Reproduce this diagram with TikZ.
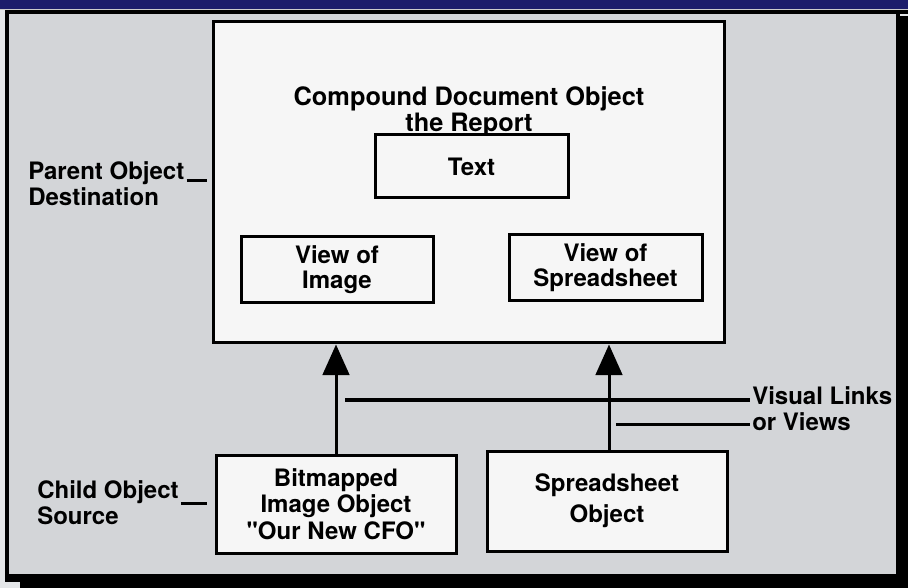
\documentclass[tikz,border=0pt]{standalone}
\usepackage{fontspec}
\setmainfont{TeX Gyre Heros}
\usetikzlibrary{arrows.meta}
\definecolor{panelgray}{HTML}{D3D5D8}
\definecolor{boxwhite}{HTML}{F6F6F6}
\definecolor{bandnavy}{HTML}{1C1D6B}
\definecolor{edgelight}{HTML}{E4E6E8}
\begin{document}
\begin{tikzpicture}[x=0.75pt,y=-0.75pt,
  txt/.style={font=\bfseries\fontsize{18}{19.5}\selectfont, inner sep=0pt},
  lbl/.style={txt, align=left, anchor=west},
  obj/.style={draw=black, line width=2.25pt, fill=boxwhite, inner sep=0pt,
              align=center, font=\bfseries\fontsize{18}{18.5}\selectfont},
  link/.style={line width=2.25pt},
  arr/.style={line width=2.25pt, -{Triangle[width=20pt,length=23pt]}}]
\useasboundingbox (0,0) rectangle (908,588);

% frame, title band and grey panel
\fill[black] (0,0) rectangle (908,588);
\fill[bandnavy] (0,0) rectangle (908,9);
\fill[gray!40] (0,9) rectangle (908,10);
\fill[edgelight] (0,10) rectangle (5,588);
\fill[edgelight] (0,582) rectangle (20,588);
\fill[panelgray] (9,14) rectangle (896,574);
\draw[edgelight, line width=1.5pt] (900,15) -- (908,15);

% compound document and its parts
\node[obj, minimum width=383.25pt, minimum height=240.75pt] (main) at (468.5,182.5) {};
\node[txt, align=center, font=\bfseries\fontsize{19}{19.5}\selectfont] (title) at (469,112)
      {Compound Document Object\\the Report};
\node[obj, minimum width=144.75pt, minimum height=47.25pt] (textbox) at (471.5,166.5) {Text};
\node[obj, minimum width=144pt, minimum height=49.5pt] (viewimg) at (337,270) {View of\\Image};
\node[obj, minimum width=144.75pt, minimum height=49.5pt] (viewss) at (605.5,268) {View of\\Spreadsheet};

% source objects
\node[obj, minimum width=180pt, minimum height=73.5pt,
      font=\bfseries\fontsize{18}{20}\selectfont] (bitmap) at (336,504)
      {Bitmapped\\Image Object\\\textquotedbl Our New CFO\textquotedbl};
\node[obj, minimum width=180pt, minimum height=75pt,
      font=\bfseries\fontsize{18}{23}\selectfont] (ssobj) at (607,501)
      {Spreadsheet\\Object};

% visual links
\draw[arr] (bitmap.north) -- (bitmap.north |- main.south);
\draw[arr] ([xshift=1.5pt]ssobj.north) -- ([xshift=1.5pt]ssobj.north |- main.south);

% side labels
\node[lbl] (parent) at (28,184) {Parent Object\\Destination};
\node[lbl] (child) at (37,503) {Child Object\\Source};
\node[lbl] (visual) at (752,409) {Visual Links\\or Views};

\coordinate (pdash) at (207,181);
\coordinate (cdash) at (207,503);
\coordinate (vlA) at (345,400);
\coordinate (ovA) at (616,424);
\draw[link] ([xshift=1.5pt]parent.east |- pdash) -- (pdash);
\draw[link] ([xshift=1.5pt]child.east |- cdash) -- (cdash);
\draw[link] (vlA) -- ([xshift=-1.5pt]vlA -| visual.west);
\draw[link] (ovA) -- ([xshift=-1.5pt]ovA -| visual.west);
\end{tikzpicture}
\end{document}
